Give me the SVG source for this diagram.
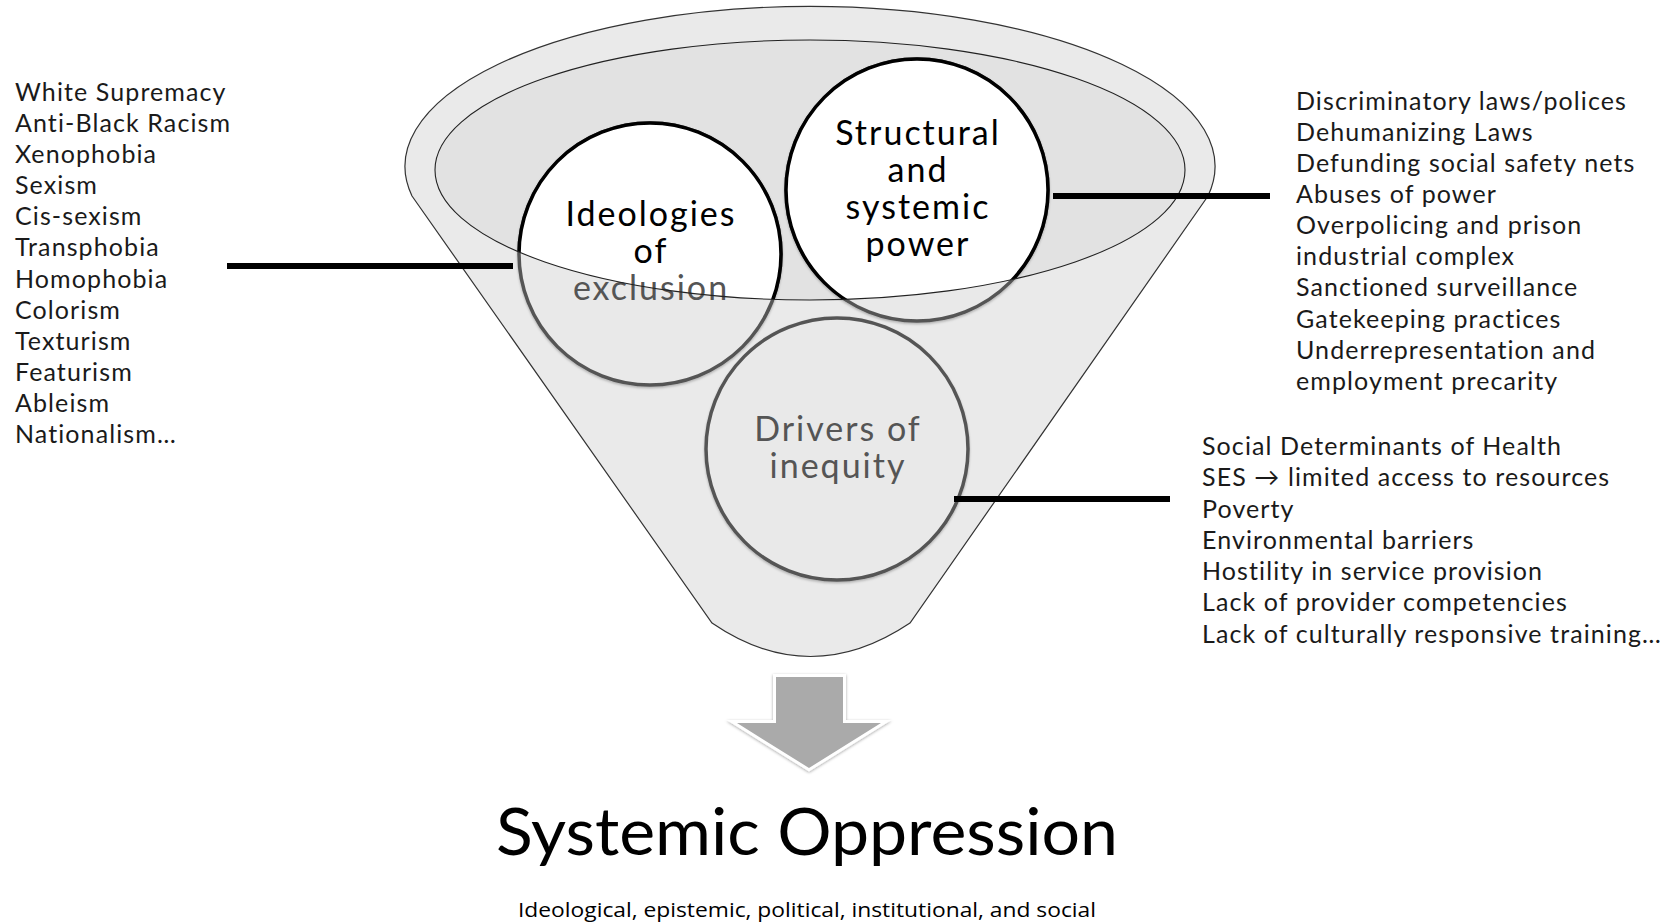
<svg xmlns="http://www.w3.org/2000/svg" width="1661" height="922" viewBox="0 0 1661 922">
<style>
.list{font-family:Lato,"Open Sans",sans-serif;font-size:25px;fill:#1a1a1a;letter-spacing:1.1px}
.ctext{font-family:Lato,"Open Sans",sans-serif;font-size:34px;text-anchor:middle;letter-spacing:2px}
.conn{stroke:#000;stroke-width:6;fill:none}
.ring{stroke-width:3.5}
</style>
<defs>
<clipPath id="rimClip"><ellipse cx="810" cy="170" rx="375" ry="130"/></clipPath>
<filter id="sh" x="-20%" y="-20%" width="140%" height="140%"><feDropShadow dx="0" dy="1" stdDeviation="1.5" flood-color="#000" flood-opacity="0.35"/></filter>
<filter id="csh" x="-10%" y="-10%" width="120%" height="120%"><feDropShadow dx="0" dy="1.5" stdDeviation="1.2" flood-color="#000" flood-opacity="0.25"/></filter>
</defs>
<rect width="1661" height="922" fill="#fff"/>
<g id="funnel">
<path d="M412,196 L712,623 Q810,690 910,623 L1208,196 A405,160 0 1 0 412,196 Z" fill="#eaeaea" stroke="#333" stroke-width="1.2"/>
<ellipse cx="810" cy="170" rx="375" ry="130" fill="#e2e2e2"/>
</g>
<g id="node-ideologies">
<circle class="ring" cx="650" cy="254" r="131" fill="#e9e9e9" stroke="#555" filter="url(#csh)"/>
<g clip-path="url(#rimClip)"><circle class="ring" cx="650" cy="254" r="131" fill="#fff" stroke="#000"/></g>
<text class="ctext" x="651" y="226" fill="#000">Ideologies</text>
<text class="ctext" x="651" y="263" fill="#000">of</text>
<text class="ctext" x="651" y="300" fill="#555">exclusion</text>
</g>
<g id="node-structural">
<circle class="ring" cx="917" cy="190" r="131" fill="#e9e9e9" stroke="#555" filter="url(#csh)"/>
<g clip-path="url(#rimClip)"><circle class="ring" cx="917" cy="190" r="131" fill="#fff" stroke="#000"/></g>
<text class="ctext" x="918" y="145" fill="#000">Structural</text>
<text class="ctext" x="918" y="182" fill="#000">and</text>
<text class="ctext" x="918" y="219" fill="#000">systemic</text>
<text class="ctext" x="918" y="256" fill="#000">power</text>
</g>
<g id="node-drivers">
<circle class="ring" cx="837" cy="449" r="131" fill="#e9e9e9" stroke="#555" filter="url(#csh)"/>
<text class="ctext" x="838" y="441" fill="#555">Drivers of</text>
<text class="ctext" x="838" y="478" fill="#555">inequity</text>
</g>
<g id="rim">
<ellipse cx="810" cy="170" rx="375" ry="130" fill="none" stroke="#222" stroke-width="1.1"/>
</g>
<g id="connectors">
<line class="conn" x1="227" y1="266" x2="513" y2="266"/>
<line class="conn" x1="1053" y1="196" x2="1270" y2="196"/>
<line class="conn" x1="954" y1="499" x2="1170" y2="499"/>
</g>
<g id="arrow">
<polygon points="776,677 843,677 843,723 881,723 809,768 737,723 776,723" fill="#aaa" stroke="#fff" stroke-width="6" stroke-linejoin="miter" filter="url(#sh)"/>
<polygon points="776,677 843,677 843,723 881,723 809,768 737,723 776,723" fill="#aaa"/>
</g>
<g id="list-ideologies">
<text class="list" x="15" y="101">White Supremacy</text>
<text class="list" x="15" y="132">Anti-Black Racism</text>
<text class="list" x="15" y="163">Xenophobia</text>
<text class="list" x="15" y="194">Sexism</text>
<text class="list" x="15" y="225">Cis-sexism</text>
<text class="list" x="15" y="256">Transphobia</text>
<text class="list" x="15" y="288">Homophobia</text>
<text class="list" x="15" y="319">Colorism</text>
<text class="list" x="15" y="350">Texturism</text>
<text class="list" x="15" y="381">Featurism</text>
<text class="list" x="15" y="412">Ableism</text>
<text class="list" x="15" y="443">Nationalism…</text>
</g>
<g id="list-structural">
<text class="list" x="1296" y="110">Discriminatory laws/polices</text>
<text class="list" x="1296" y="141">Dehumanizing Laws</text>
<text class="list" x="1296" y="172">Defunding social safety nets</text>
<text class="list" x="1296" y="203">Abuses of power</text>
<text class="list" x="1296" y="234">Overpolicing and prison</text>
<text class="list" x="1296" y="265">industrial complex</text>
<text class="list" x="1296" y="296">Sanctioned surveillance</text>
<text class="list" x="1296" y="328">Gatekeeping practices</text>
<text class="list" x="1296" y="359">Underrepresentation and</text>
<text class="list" x="1296" y="390">employment precarity</text>
</g>
<g id="list-drivers">
<text class="list" x="1202" y="455">Social Determinants of Health</text>
<text class="list" x="1202" y="486">SES → limited access to resources</text>
<text class="list" x="1202" y="518">Poverty</text>
<text class="list" x="1202" y="549">Environmental barriers</text>
<text class="list" x="1202" y="580">Hostility in service provision</text>
<text class="list" x="1202" y="611">Lack of provider competencies</text>
<text class="list" x="1202" y="643" letter-spacing="0.9">Lack of culturally responsive training…</text>
</g>
<g id="title">
<text x="807" y="855" text-anchor="middle" font-family="Lato,'Open Sans',sans-serif" font-size="66" fill="#000" textLength="622" lengthAdjust="spacingAndGlyphs">Systemic Oppression</text>
<text x="807" y="917" text-anchor="middle" font-family="'Open Sans','Noto Sans',sans-serif" font-size="20" fill="#000" textLength="578" lengthAdjust="spacingAndGlyphs">Ideological, epistemic, political, institutional, and social</text>
</g>
</svg>
